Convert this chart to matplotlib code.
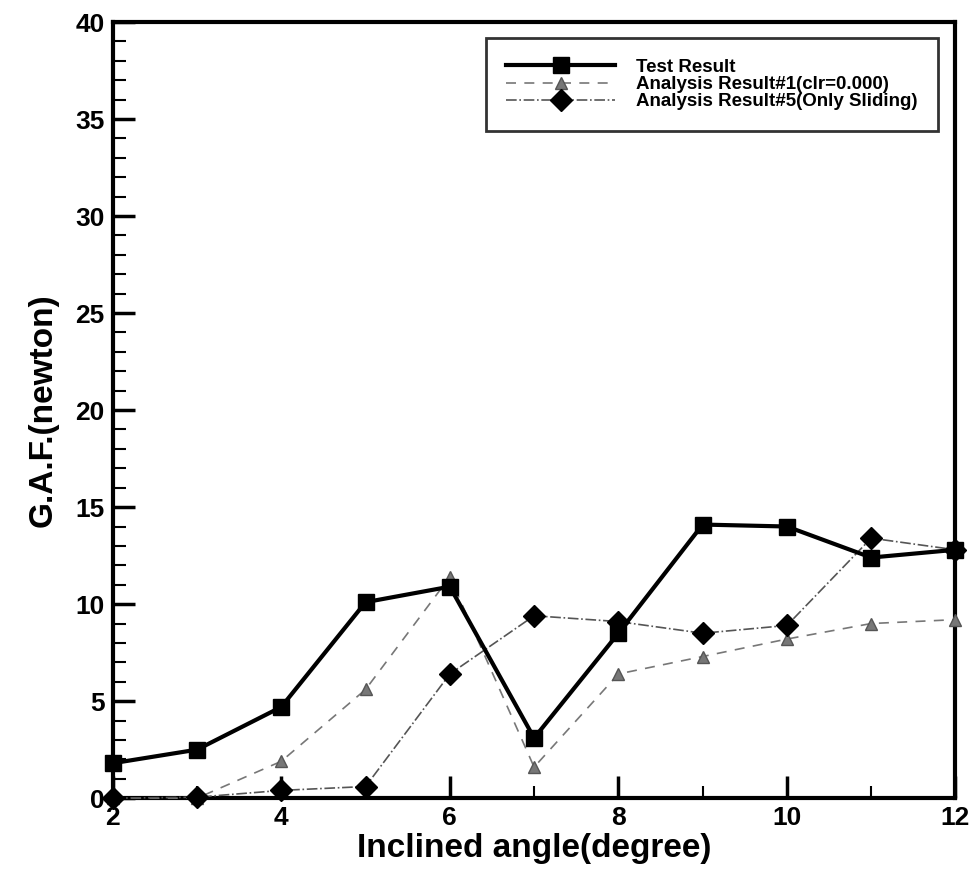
import matplotlib
matplotlib.use("Agg")
import matplotlib.pyplot as plt
from matplotlib.ticker import MultipleLocator

angle = [2, 3, 4, 5, 6, 7, 8, 9, 10, 11, 12]
test_result = [1.8, 2.5, 4.7, 10.1, 10.9, 3.1, 8.5, 14.1, 14.0, 12.4, 12.8]
analysis_1 = [0.0, 0.0, 1.9, 5.6, 11.4, 1.6, 6.4, 7.3, 8.2, 9.0, 9.2]
analysis_5 = [0.0, 0.05, 0.4, 0.6, 6.4, 9.4, 9.1, 8.5, 8.9, 13.4, 12.8]

plt.rcParams["font.family"] = ["Liberation Sans", "DejaVu Sans"]
plt.rcParams["font.weight"] = "bold"

fig = plt.figure(figsize=(9.72, 8.8), dpi=100)
ax = fig.add_axes([0.116, 0.093, 0.867, 0.882])

ax.plot(angle, test_result, "s-", color="black", linewidth=3, markersize=12,
        label="Test Result", clip_on=False, zorder=4)
ax.plot(angle, analysis_1, "^--", color="#777777", linewidth=1.2, markersize=9,
        dashes=(6, 5), markeredgecolor="#555555", label="Analysis Result#1(clr=0.000)",
        clip_on=False, zorder=3)
ax.plot(angle, analysis_5, "D-.", color="#555555", linewidth=1.2, markersize=11,
        markerfacecolor="black", markeredgecolor="black",
        label="Analysis Result#5(Only Sliding)", clip_on=False, zorder=3)

ax.set_xlim(2, 12)
ax.set_ylim(0, 40)
ax.xaxis.set_major_locator(MultipleLocator(2))
ax.xaxis.set_minor_locator(MultipleLocator(1))
ax.yaxis.set_major_locator(MultipleLocator(5))
ax.yaxis.set_minor_locator(MultipleLocator(1))
ax.tick_params(which="major", direction="in", length=16, width=2.5, labelsize=19, pad=6)
ax.tick_params(which="minor", direction="in", length=9, width=1.5)
for s in ax.spines.values():
    s.set_linewidth(3)

ax.set_xlabel("Inclined angle(degree)", fontsize=24, fontweight="bold", labelpad=2)
ax.set_ylabel("G.A.F.(newton)", fontsize=24, fontweight="bold", labelpad=12)

leg = ax.legend(loc="upper right", bbox_to_anchor=(0.979, 0.979), fontsize=13.5,
                frameon=True, fancybox=False, edgecolor="black", handlelength=5.8,
                handletextpad=1.1, borderpad=1.1, labelspacing=0.0, borderaxespad=0)
leg.get_frame().set_linewidth(2)
for t in leg.get_texts():
    t.set_fontweight("bold")

fig.savefig("out.png", dpi=100)
